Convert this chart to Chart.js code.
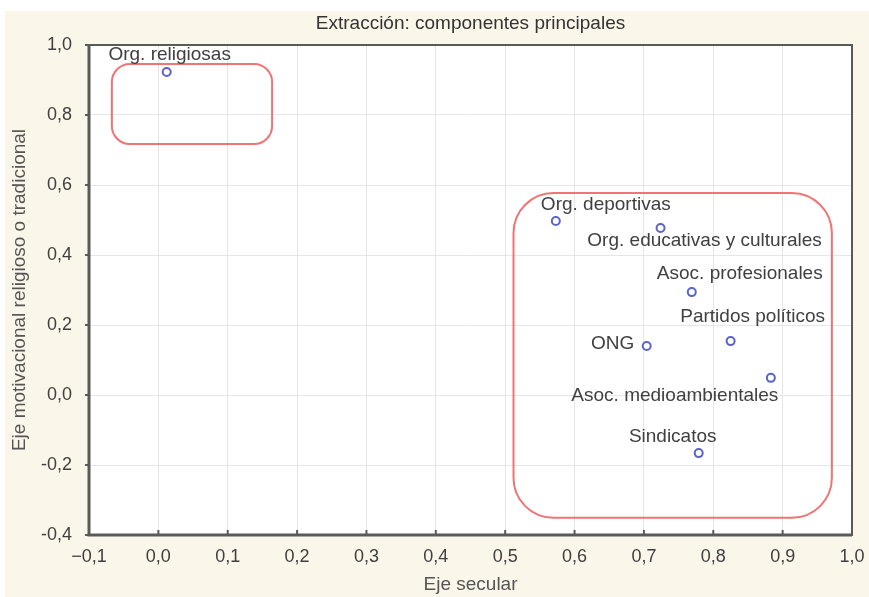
<!DOCTYPE html>
<html>
<head>
<meta charset="utf-8">
<script src="https://cdn.jsdelivr.net/npm/chart.js@4.4.1/dist/chart.umd.min.js"></script>
<style>
    html, body { margin: 0; padding: 0; background: #ffffff; }
    #wrap { position: absolute; left: 5px; top: 11px; width: 864px; height: 586px; background: #fbf6ea; }
</style>
</head>
<body>
<div id="wrap"><canvas id="chart" width="864" height="586"></canvas></div>
<script>
// data
const labels = ['Org. religiosas', 'Org. deportivas', 'Org. educativas y culturales', 'Asoc. profesionales',
    'Partidos políticos', 'ONG', 'Asoc. medioambientales', 'Sindicatos'];
const xValues = [0.012, 0.573, 0.724, 0.769, 0.825, 0.704, 0.883, 0.779];
const yValues = [0.923, 0.497, 0.477, 0.294, 0.154, 0.140, 0.049, -0.166];

// rounded groupings, in axis units
const groupX0 = [-0.067, 0.512];
const groupX1 = [0.164, 0.971];
const groupY0 = [0.717, -0.351];
const groupY1 = [0.946, 0.577];

// label placement relative to each point (px)
const labelDx = [3, 50, 44, 48, 22, -34, -96, -26];
const labelDy = [-17, -16, 13, -18, -24, -2, 18, -16];
const boxRadius = [18, 40];

const chartTitle = 'Extracción: componentes principales';
const FONT = 'Liberation Sans, Arial, sans-serif';

function fmt(v, minus) {
    const r = Math.round(v * 10) / 10;
    const s = Math.abs(r).toFixed(1).replace('.', ',');
    return r < 0 ? minus + s : s;
}

const plotBg = {
    id: 'plotBg',
    beforeDraw(chart) {
        const { ctx, chartArea: a } = chart;
        ctx.save();
        ctx.fillStyle = '#ffffff';
        ctx.fillRect(a.left, a.top, a.right - a.left, a.bottom - a.top);
        // title centred over the plot
        ctx.fillStyle = '#333333';
        ctx.font = '19px ' + FONT;
        ctx.textAlign = 'center';
        ctx.textBaseline = 'middle';
        ctx.fillText(chartTitle, (a.left + a.right) / 2, 13);
        ctx.restore();
    },
    afterDraw(chart) {
        const { ctx, chartArea: a, scales } = chart;
        ctx.save();
        // frame
        ctx.strokeStyle = '#5a5a5a';
        ctx.lineWidth = 2;
        ctx.strokeRect(a.left, a.top, a.right - a.left, a.bottom - a.top);
        ctx.lineWidth = 3;
        ctx.beginPath();
        ctx.moveTo(a.left, a.top);
        ctx.lineTo(a.left, a.bottom);
        ctx.lineTo(a.right, a.bottom);
        ctx.stroke();
        // inward ticks on x axis
        ctx.lineWidth = 2;
        scales.x.ticks.forEach(t => {
            const px = scales.x.getPixelForValue(t.value);
            ctx.beginPath();
            ctx.moveTo(px, a.bottom);
            ctx.lineTo(px, a.bottom - 5);
            ctx.stroke();
        });
        scales.y.ticks.forEach(t => {
            const py = scales.y.getPixelForValue(t.value);
            ctx.beginPath();
            ctx.moveTo(a.left - 4, py);
            ctx.lineTo(a.left, py);
            ctx.stroke();
        });
        // group boxes
        ctx.strokeStyle = '#f07474';
        ctx.lineWidth = 2;
        for (let i = 0; i < groupX0.length; i++) {
            const x0 = scales.x.getPixelForValue(groupX0[i]);
            const x1 = scales.x.getPixelForValue(groupX1[i]);
            const y0 = scales.y.getPixelForValue(groupY1[i]);
            const y1 = scales.y.getPixelForValue(groupY0[i]);
            ctx.beginPath();
            ctx.roundRect(x0, y0, x1 - x0, y1 - y0, boxRadius[i]);
            ctx.stroke();
        }
        // point labels
        ctx.fillStyle = '#404040';
        ctx.font = '19px ' + FONT;
        ctx.textAlign = 'center';
        ctx.textBaseline = 'middle';
        const meta = chart.getDatasetMeta(0);
        meta.data.forEach((pt, i) => {
            ctx.fillText(labels[i], pt.x + labelDx[i], pt.y + labelDy[i]);
        });
        ctx.restore();
    }
};

const ctx = document.getElementById('chart').getContext('2d');
const chart = new Chart(ctx, {
    type: 'scatter',
    data: {
        datasets: [{
            data: xValues.map((x, i) => ({ x: x, y: yValues[i] })),
            pointRadius: 4,
            pointBorderWidth: 2,
            pointBorderColor: '#5a64c8',
            pointBackgroundColor: 'rgba(0,0,0,0)'
        }]
    },
    options: {
        responsive: false,
        animation: false,
        layout: { padding: { right: 17, left: 0, bottom: 0, top: 34 } },
        plugins: {
            legend: { display: false },
            tooltip: { enabled: false },
            title: { display: false }
        },
        scales: {
            x: {
                type: 'linear',
                min: -0.1,
                max: 1.0,
                afterFit: s => { s.height = 62; s.paddingRight = 0; s.paddingLeft = 0; },
                ticks: {
                    stepSize: 0.1,
                    color: '#404040',
                    padding: 11,
                    font: { family: FONT, size: 18 },
                    callback: v => fmt(v, '\u2212')
                },
                grid: { color: '#e6e6e6', drawTicks: false },
                border: { display: false },
                title: {
                    display: true,
                    text: 'Eje secular',
                    color: '#555555',
                    font: { family: FONT, size: 19 },
                    padding: { top: 0, bottom: 1 }
                }
            },
            y: {
                type: 'linear',
                min: -0.4,
                max: 1.0,
                afterFit: s => { s.width = 84; s.paddingTop = 0; s.paddingBottom = 0; },
                ticks: {
                    stepSize: 0.2,
                    color: '#404040',
                    padding: 17,
                    font: { family: FONT, size: 18 },
                    callback: v => fmt(v, '-')
                },
                grid: { color: '#e6e6e6', drawTicks: false },
                border: { display: false },
                title: {
                    display: true,
                    text: 'Eje motivacional religioso o tradicional',
                    color: '#555555',
                    font: { family: FONT, size: 19 },
                    padding: { top: 3, bottom: 0 }
                }
            }
        }
    },
    plugins: [plotBg]
});
</script>
</body>
</html>
